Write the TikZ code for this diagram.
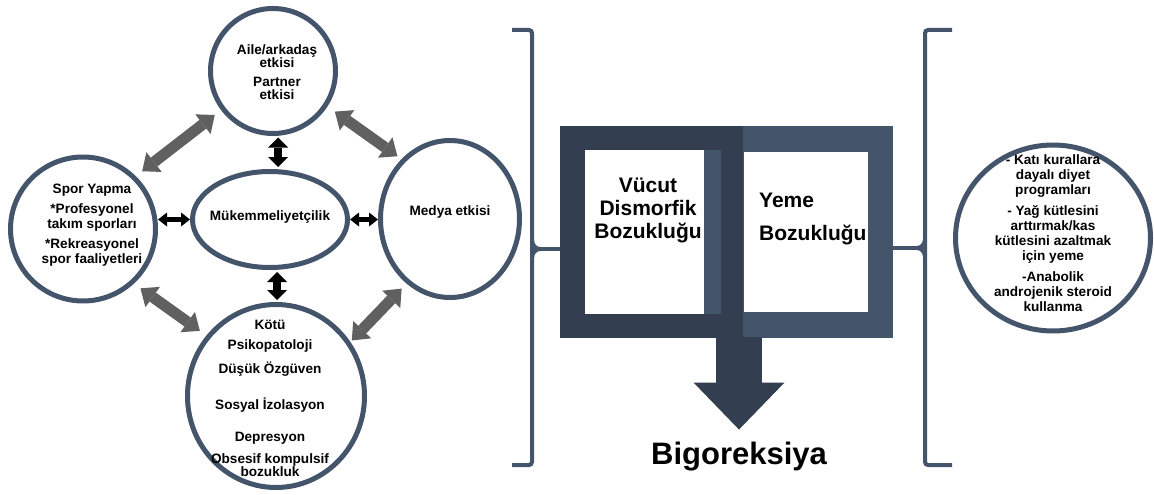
\documentclass[tikz,border=0pt]{standalone}
\usepackage{fontspec}
\setmainfont{Liberation Sans}
\usetikzlibrary{arrows.meta,shapes.geometric,calc}
\definecolor{slate}{HTML}{44546A}
\definecolor{navy}{HTML}{333F50}
\definecolor{arrowgray}{HTML}{606060}

\begin{document}
\begin{tikzpicture}[x=1pt,y=-1pt,
  ring/.style={ellipse, draw=slate, line width=5pt, fill=white, inner sep=0pt},
  lbl/.style={font=\fontsize{13.6}{13.5}\selectfont\bfseries, align=center, inner sep=0pt},
  lblwide/.style={font=\fontsize{13.6}{15}\selectfont\bfseries, align=center, inner sep=0pt},
  grayarrow/.style={draw=arrowgray, line width=11pt,
    {Triangle[length=15pt,width=25pt,line width=0pt]}-{Triangle[length=15pt,width=25pt,line width=0pt]}},
  blkv/.style={draw=black, line width=8pt,
    {Triangle[length=10pt,width=20pt,line width=0pt]}-{Triangle[length=10pt,width=20pt,line width=0pt]}},
  blkh/.style={draw=black, line width=5pt,
    {Triangle[length=9pt,width=14pt,line width=0pt]}-{Triangle[length=9pt,width=14pt,line width=0pt]}},
  brk/.style={draw=slate, line width=4pt, rounded corners=3pt},
  panel/.style={inner sep=0pt, outer sep=0pt, anchor=north west},
  boxtxt/.style={font=\fontsize{21}{23}\selectfont\bfseries, inner sep=0pt},
]
\fill[white] (0,0) rectangle (1154,495);
\useasboundingbox (0,0) rectangle (1154,495);

% ---- risk-factor circles ----
\node[ring, minimum width=125pt, minimum height=125pt] (aile)  at (273,71)    {};
\node[ring, minimum width=145pt, minimum height=144pt] (spor)  at (83,229)    {};
\node[ring, minimum width=155pt, minimum height=96pt]  (mukem) at (270,219.5) {};
\node[ring, minimum width=139pt, minimum height=157pt] (medya) at (450,219)   {};
\node[ring, minimum width=177pt, minimum height=183pt] (psiko) at (276,396)   {};
\node[ring, minimum width=195pt, minimum height=186pt] (diyet) at (1053,238)  {};

\node[lbl] (ailetxt) at (277,72) {Aile/arkadaş\\etkisi\\[5pt]Partner\\etkisi};
\node[lbl, font=\fontsize{13.6}{14.5}\selectfont\bfseries] (sportxt) at (92,225)
  {Spor Yapma\\[6pt]*Profesyonel\\takım sporları\\[6pt]*Rekreasyonel\\spor faaliyetleri};
\node[lbl] (mukemtxt) at (270,217) {Mükemmeliyetçilik};
\node[lbl] (medyatxt) at (450,212) {Medya etkisi};
\node[lbl] (psikotxt) at (270,398.5)
  {Kötü\\[6.5pt]Psikopatoloji\\[8.5pt]Düşük Özgüven\\[20.5pt]Sosyal İzolasyon\\[18.5pt]Depresyon\\[8.5pt]Obsesif kompulsif\\bozukluk};
\node[lblwide] (diyettxt) at (1053,233.5)
  {- Katı kurallara\\dayalı diyet\\programları\\[6pt]- Yağ kütlesini\\arttırmak/kas\\kütlesini azaltmak\\için yeme\\[6pt]-Anabolik\\androjenik steroid\\kullanma};

% ---- links between the circles ----
\draw[grayarrow, shorten <=8pt, shorten >=8pt] (spor.45)  -- (aile.217);
\draw[grayarrow, shorten <=9pt, shorten >=5pt] (aile.327) -- (medya.129);
\draw[grayarrow, shorten <=8pt, shorten >=8pt] (spor.313) -- (psiko.139);
\draw[grayarrow, shorten <=2pt, shorten >=7pt] (psiko.36) -- (medya.236);

\draw[blkv, shorten <=1.5pt, shorten >=2pt] ([xshift=5pt]aile.south) -- ([xshift=5pt]aile.south |- mukem.north);
\draw[blkv, shorten <=2pt, shorten >=2pt] ([xshift=7pt]mukem.south) -- ([xshift=7pt]mukem.south |- psiko.north);
\draw[blkh] (mukem.west -| spor.east) -- (mukem.west);
\draw[blkh] (mukem.east) -- (mukem.east -| medya.west);

% ---- central box ----
\node[panel, fill=slate, minimum width=189pt, minimum height=212pt] (light) at (704,126) {};
\node[panel, fill=navy,  minimum width=183pt, minimum height=212pt] (dark)  at (560,126) {};
\fill[white] (585,150) rectangle (704,314);
\fill[slate] (704,150) rectangle (721,314);
\fill[white] (744,152) rectangle (868,312);

\node[boxtxt, align=center] (vucut) at (648,210) {Vücut\\Dismorfik\\Bozukluğu};
\node[boxtxt, font=\fontsize{21}{33}\selectfont\bfseries, align=left, anchor=west] (yeme) at (759,218.5) {Yeme\\Bozukluğu};

\node[font=\fontsize{31}{31}\selectfont\bfseries, inner sep=0pt, anchor=base] (bigo) at (739,464) {Bigoreksiya};
\draw[navy, line width=46pt, -{Triangle[length=47pt,width=91pt,line width=0pt]},
      shorten <=-1pt, shorten >=11.8pt] (dark.south -| bigo.north) -- (bigo.north);

% ---- brackets ----
\draw[brk] (512,30) -- (532,30) -- (532,465) -- (512,465);
\coordinate (ltip) at (540,249);
\draw[draw=slate, line width=4pt] (532,240) to[out=-90,in=180] (ltip);
\draw[draw=slate, line width=4pt] (532,258) to[out=90,in=180] (ltip);
\draw[draw=slate, line width=4pt] (ltip) -- (ltip -| dark.west);

\draw[brk] (952,30) -- (925,30) -- (925,465) -- (952,465);
\coordinate (rtip) at (917,248);
\draw[draw=slate, line width=4pt] (925,239) to[out=-90,in=0] (rtip);
\draw[draw=slate, line width=4pt] (925,257) to[out=90,in=0] (rtip);
\draw[draw=slate, line width=4pt] (rtip) -- (rtip -| light.east);
\end{tikzpicture}
\end{document}
